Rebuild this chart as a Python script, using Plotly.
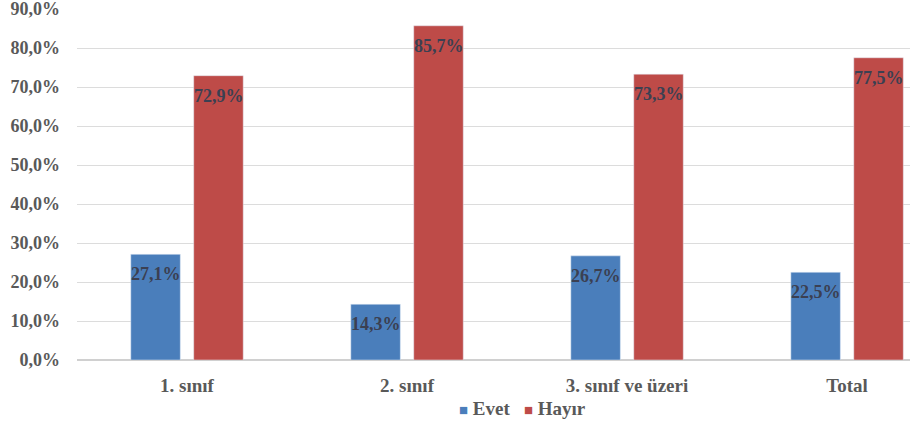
import plotly.graph_objects as go

categories = ["1. sınıf", "2. sınıf", "3. sınıf ve üzeri", "Total"]
evet = [27.1, 14.3, 26.7, 22.5]
hayir = [72.9, 85.7, 73.3, 77.5]
y_ticks = [0, 10, 20, 30, 40, 50, 60, 70, 80, 90]

BLUE = "#4a7ebb"
RED = "#be4b48"
FONT = "Liberation Serif"


def fmt(v):
    return f"{v:.1f}%".replace(".", ",")


fig = go.Figure()
fig.add_trace(go.Bar(name="Evet", x=categories, y=evet, marker_color=BLUE))
fig.add_trace(go.Bar(name="Hayır", x=categories, y=hayir, marker_color=RED))

annotations = []
for series, shift in ((evet, -31.5), (hayir, 31.5)):
    for c, v in zip(categories, series):
        annotations.append(dict(
            x=c, y=v, xref="x", yref="y", text=f"<b>{fmt(v)}</b>",
            showarrow=False, xshift=shift, yshift=-20, yanchor="middle",
            font=dict(family=FONT, size=18, color="#3b4052"),
        ))

# legend drawn as text
legend_text = (
    f"<span style='color:{BLUE};font-size:15px'>■</span> <b>Evet</b>"
    f"   <span style='color:{RED};font-size:15px'>■</span> <b>Hayır</b>"
)
annotations.append(dict(
    x=(522 - 77) / (910 - 77), xref="paper", y=(360 - 408) / 351, yref="paper",
    text=legend_text, showarrow=False, xanchor="center", yanchor="middle",
    font=dict(family=FONT, size=19, color="#595959"),
))

fig.update_layout(
    width=913, height=425,
    margin=dict(l=77, r=3, t=9, b=65, autoexpand=False),
    paper_bgcolor="white", plot_bgcolor="white",
    barmode="group", bargap=0.428, bargroupgap=0.213,
    font=dict(family=FONT, color="#595959"),
    annotations=annotations,
    showlegend=False,
)
fig.update_xaxes(
    range=[-0.5, 3.286], showgrid=False, showline=False, ticks="",
    tickfont=dict(family=FONT, size=19, color="#595959", weight="bold"),
    ticklabelstandoff=12, automargin=False,
)
fig.update_yaxes(
    range=[0, 90], tickvals=y_ticks, ticktext=[fmt(t) for t in y_ticks],
    showgrid=True, gridcolor="#dcdcdc", gridwidth=1, zeroline=True, zerolinecolor="#d0d0d0",
    showline=False, ticks="", ticklabeloverflow="allow",
    tickfont=dict(family=FONT, size=18, color="#595959", weight="bold"),
    ticklabelstandoff=16, automargin=False,
)
fig.write_html("out.html", config={"displayModeBar": False},
               post_script="document.body.style.margin='0';")
